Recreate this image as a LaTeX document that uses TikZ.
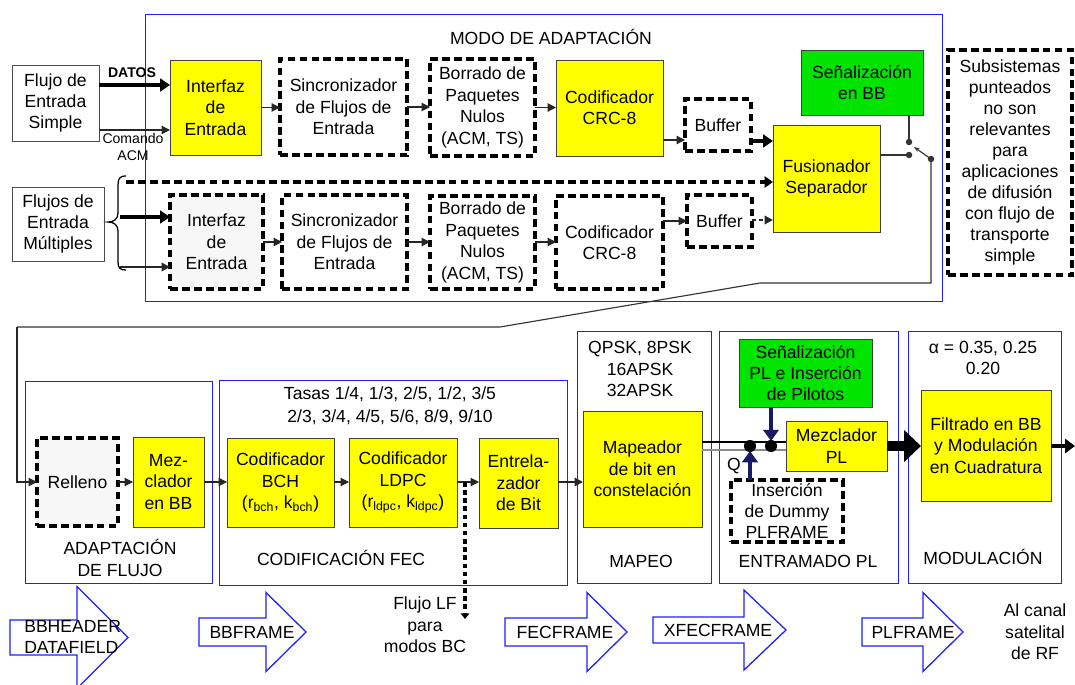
\documentclass[tikz,border=0pt]{standalone}
\usepackage{fontspec}
\setmainfont{Liberation Sans}
\usetikzlibrary{arrows.meta,calc}
\definecolor{byellow}{RGB}{255,255,0}
\definecolor{bgreen}{RGB}{0,228,0}
\definecolor{fblue}{RGB}{30,30,255}
\definecolor{navy}{RGB}{25,25,100}
\definecolor{lgray}{RGB}{247,247,247}
\tikzset{
 every node/.style={font=\fontsize{12.5}{15.2}\selectfont, align=center},
 base/.style={inner sep=0pt, outer sep=0pt},
 ybox/.style={base, draw=black!75, fill=byellow, line width=0.7pt},
 gbox/.style={base, draw=black!75, fill=bgreen, line width=0.7pt},
 wbox/.style={base, draw=black!70, fill=white, line width=0.7pt},
 dbox/.style={base, draw=black, line width=2.6pt, dash pattern=on 5.5pt off 3pt, fill=white},
 dgbox/.style={dbox, fill=lgray},
 region/.style={base, draw=fblue, line width=0.7pt},
 lbl/.style={inner sep=0pt},
 small/.style={font=\fontsize{10}{11.5}\selectfont},
 arr/.style={draw=black!85, line width=0.8pt, -{Triangle[length=6pt,width=6pt]}},
 tarr/.style={draw=black, line width=2.5pt, -{Triangle[length=7pt,width=9pt]}},
 narr/.style={draw=navy, line width=3.4pt, -{Triangle[length=8pt,width=11pt]}},
 conn/.style={draw=black!80, line width=0.8pt},
 dline/.style={draw=black, line width=2.6pt, dash pattern=on 5.5pt off 3pt},
 bigarrow/.style={draw=fblue, fill=white, line width=0.9pt, line join=miter},
}
% \bx{name}{style}{x1}{y1}{x2}{y2}{text}
\newcommand{\bx}[7]{%
  \node[#2, minimum width={(#5-#3)*0.025cm}, minimum height={(#6-#4)*0.025cm}] (#1) at ({(#3+#5)/2},{(#4+#6)/2}) {#7};}
\newcommand{\bigarr}[6]{% x0, xb, xt, yc, hs, hh
  \draw[bigarrow] (#1,#4-#5) -- (#2,#4-#5) -- (#2,#4-#6) -- (#3,#4) -- (#2,#4+#6) -- (#2,#4+#5) -- (#1,#4+#5) -- cycle;}
\begin{document}
\begin{tikzpicture}[x=0.025cm,y=-0.025cm]
\useasboundingbox (0,0) rectangle (1075,684);
\fill[white] (0,0) rectangle (1075,684);

% ---------- top region ----------
\bx{modo}{region}{145}{14}{942}{301}{}
\node[lbl] (modot) at (551,37) {MODO DE ADAPTACIÓN};

\bx{fs}{wbox}{12}{65}{99}{141}{Flujo de\\Entrada\\Simple}
\bx{ie1}{ybox}{170}{60}{261}{155}{Interfaz\\de\\Entrada}
\bx{sy1}{dbox}{280}{59}{407}{155}{Sincronizador\\de Flujos de\\Entrada}
\bx{bo1}{dbox}{430}{59}{535}{156}{Borrado de\\Paquetes\\Nulos\\(ACM, TS)}
\bx{crc1}{ybox}{556}{60}{663}{156}{Codificador\\CRC-8}
\bx{buf1}{dbox}{685}{99}{751}{151}{Buffer}
\bx{fus}{ybox}{773}{125}{880}{232}{Fusionador\\Separador}
\bx{sbb}{gbox}{801}{50}{923}{115}{Señalización\\en BB}
\bx{sub}{dbox,font=\fontsize{12.5}{14.9}\selectfont}{948}{50}{1072}{275}{Subsistemas\\punteados\\no son\\relevantes\\para\\aplicaciones\\de difusión\\con flujo de\\transporte\\simple}

\bx{fm}{wbox}{12}{187}{104}{261}{Flujos de\\Entrada\\Múltiples}
\bx{ie2}{dgbox}{170}{195}{263}{289}{Interfaz\\de\\Entrada}
\bx{sy2}{dbox}{282}{195}{407}{289}{Sincronizador\\de Flujos de\\Entrada}
\bx{bo2}{dbox}{430}{196}{535}{289}{Borrado de\\Paquetes\\Nulos\\(ACM, TS)}
\bx{crc2}{dbox}{556}{196}{663}{289}{Codificador\\CRC-8}
\bx{buf2}{dbox}{687}{195}{752}{247}{Buffer}

% row 1 connectors
\draw[tarr] (fs.east |- 0,85) -- (ie1.west |- 0,85);
\node[lbl, font=\bfseries\fontsize{10}{11.5}\selectfont] (datos) at (132,73) {DATOS};
\draw[arr] (fs.east |- 0,130) -- (ie1.west |- 0,130);
\node[lbl, small] (cmd) at (133,147) {Comando\\ACM};
\draw[arr] (ie1.east) -- (sy1.west |- ie1.east);
\draw[arr] (sy1.east) -- (bo1.west |- sy1.east);
\draw[arr] (bo1.east) -- (crc1.west |- bo1.east);
\draw[arr] (crc1.east |- 0,140) -- (buf1.west |- 0,140);
\draw[tarr] (buf1.east |- 0,141) -- (fus.west |- 0,141);

% row 2 connectors
\draw[draw=black, line width=0.9pt] (126,176) .. controls (119,176) and (118,179) .. (118,186) -- (118,213)
  .. controls (118,219) and (114,222) .. (108,222) .. controls (114,222) and (118,225) .. (118,231)
  -- (118,262) .. controls (118,268) and (120,270) .. (126,270);
\draw[dline, -{Triangle[length=6pt,width=8pt]}] (126,182) -- (fus.west |- 0,182);
\draw[tarr] (120,217) -- (ie2.west |- 0,217);
\draw[arr, line width=1.6pt] (120,267) -- (ie2.west |- 0,267);
\draw[arr] (ie2.east |- 0,242) -- (sy2.west |- 0,242);
\draw[arr] (sy2.east |- 0,242) -- (bo2.west |- 0,242);
\draw[arr] (bo2.east |- 0,242) -- (crc2.west |- 0,242);
\draw[arr] (crc2.east |- 0,221) -- (buf2.west |- 0,221);
\draw[arr, line width=2pt, dash pattern=on 3pt off 2pt] (buf2.east |- 0,220) -- (fus.west |- 0,220);

% switch
\coordinate (sw1) at (909,142);
\coordinate (sw2) at (909,155);
\coordinate (sw3) at (931,159);
\draw[conn] (sw1 |- sbb.south) -- (sw1);
\draw[conn] (fus.east |- sw2) -- (sw2);
\draw[conn, -{Stealth[length=4pt,width=3pt]}] (sw3) -- (914,147);
\fill[black!80] (sw1) circle (2.3pt) (sw2) circle (2.3pt) (sw3) circle (2.3pt);

% ---------- bottom row ----------
\bx{radf}{region}{25}{381}{212}{583}{}
\bx{rfec}{region}{219}{380}{567}{585}{}
\bx{rmap}{region}{577}{331}{711}{583}{}
\bx{rpl}{region}{719}{331}{898}{583}{}
\bx{rmod}{region}{908}{331}{1061}{583}{}

\bx{rel}{dgbox}{37}{438}{118}{526}{Relleno}
\bx{mzb}{ybox}{133}{437}{204}{527}{Mez-\\clador\\en BB}
\node[lbl] (tadf) at (120,558) {ADAPTACIÓN\\DE FLUJO};

\node[lbl, font=\fontsize{12.5}{16.5}\selectfont] (tasas) at (390,406) {Tasas 1/4, 1/3, 2/5, 1/2, 3/5\\2/3, 3/4, 4/5, 5/6, 8/9, 9/10};
\bx{bch}{ybox}{227}{438}{334}{527}{Codificador\\BCH\\(r\textsubscript{bch}, k\textsubscript{bch})}
\bx{ldpc}{ybox}{349}{438}{457}{527}{Codificador\\LDPC\\(r\textsubscript{ldpc}, k\textsubscript{ldpc})}
\bx{ent}{ybox}{479}{438}{558}{528}{Entrela-\\zador\\de Bit}
\node[lbl] (tfec) at (341,558) {CODIFICACIÓN FEC};

\node[lbl] (tmod) at (640,369) {QPSK, 8PSK\\16APSK\\32APSK};
\bx{map}{ybox}{583}{411}{702}{527}{Mapeador\\de bit en\\constelación}
\node[lbl] (tmap) at (641,561) {MAPEO};

\bx{spl}{gbox}{739}{339}{872}{407}{Señalización\\PL e Inserción\\de Pilotos}
\bx{mzpl}{ybox}{786}{421}{887}{471}{Mezclador\\PL}
\bx{dum}{dbox}{731}{480}{843}{542}{Inserción\\de Dummy\\PLFRAME}
\node[lbl] (tpl) at (808,561) {ENTRAMADO PL};

\node[lbl] (talpha) at (983,358) {α = 0.35, 0.25\\0.20};
\bx{fil}{ybox}{921}{390}{1051}{501}{Filtrado en BB\\y Modulación\\en Cuadratura}
\node[lbl] (tmodu) at (983,557) {MODULACIÓN};

% bottom connectors
\draw[arr] (17,327) -- (17,482) -- (rel.west |- 0,482);
\draw[conn] (sw3) -- (931,283) -- (760,283) -- (500,327) -- (17,327);
\draw[arr] (rel.east |- 0,482) -- (mzb.west |- 0,482);
\draw[arr] (mzb.east |- 0,482) -- (bch.west |- 0,482);
\draw[arr] (bch.east |- 0,482) -- (ldpc.west |- 0,482);
\draw[arr] (ldpc.east |- 0,482) -- (ent.west |- 0,482);
\draw[arr, line width=1.4pt] (ent.east |- 0,482) -- (map.west |- 0,482);
\coordinate (lfs) at (465,482);
\coordinate (lfe) at (465,619);
\draw[line width=2.6pt, dash pattern=on 3.2pt off 2.6pt, -{Triangle[length=4pt,width=6pt]}] (lfs) -- (lfe);
\node[lbl] (tlf) at (425,625) {Flujo LF\\para\\modos BC};

\draw[draw=black, line width=0.8pt] (map.east |- 0,442) -- (mzpl.west |- 0,442);
\draw[draw=black!45, line width=1.2pt] (map.east |- 0,450) -- (mzpl.west |- 0,450);
\coordinate (d1) at (750,446);
\coordinate (d2) at (771,446);
\node[lbl] (tq) at (734,466) {Q};
\draw[narr] (d1 |- dum.north) -- ($(d1)+(0,5)$);
\draw[narr] (d2 |- spl.south) -- ($(d2)+(0,-5)$);
\fill[black] (d1) circle (4.3pt) (d2) circle (4.3pt);
\draw[draw=black, line width=7pt, -{Triangle[length=12pt,width=22pt]}] (mzpl.east) -- (fil.west |- mzpl.east);
\coordinate (rfout) at (1075,446);
\draw[draw=black, line width=3pt, -{Triangle[length=7pt,width=10pt]}] (fil.east |- rfout) -- (rfout);

% big frame arrows
\bigarr{10}{77}{128}{637.5}{17.5}{51}
\node[lbl, anchor=west, align=left] (tbbh) at (24,637) {BBHEADER\\DATAFIELD};
\bigarr{199}{266}{306}{632}{14}{39.5}
\node[lbl] (tbbf) at (252,632) {BBFRAME};
\bigarr{505}{587}{627}{632}{14}{39.5}
\node[lbl] (tfecf) at (565,632) {FECFRAME};
\bigarr{653}{744}{786}{630}{13}{40}
\node[lbl] (txfec) at (718,630) {XFECFRAME};
\bigarr{862}{923}{963}{632}{14}{39.5}
\node[lbl] (tplf) at (913,632) {PLFRAME};
\node[lbl] (trf) at (1035,632) {Al canal\\satelital\\de RF};
\end{tikzpicture}
\end{document}
